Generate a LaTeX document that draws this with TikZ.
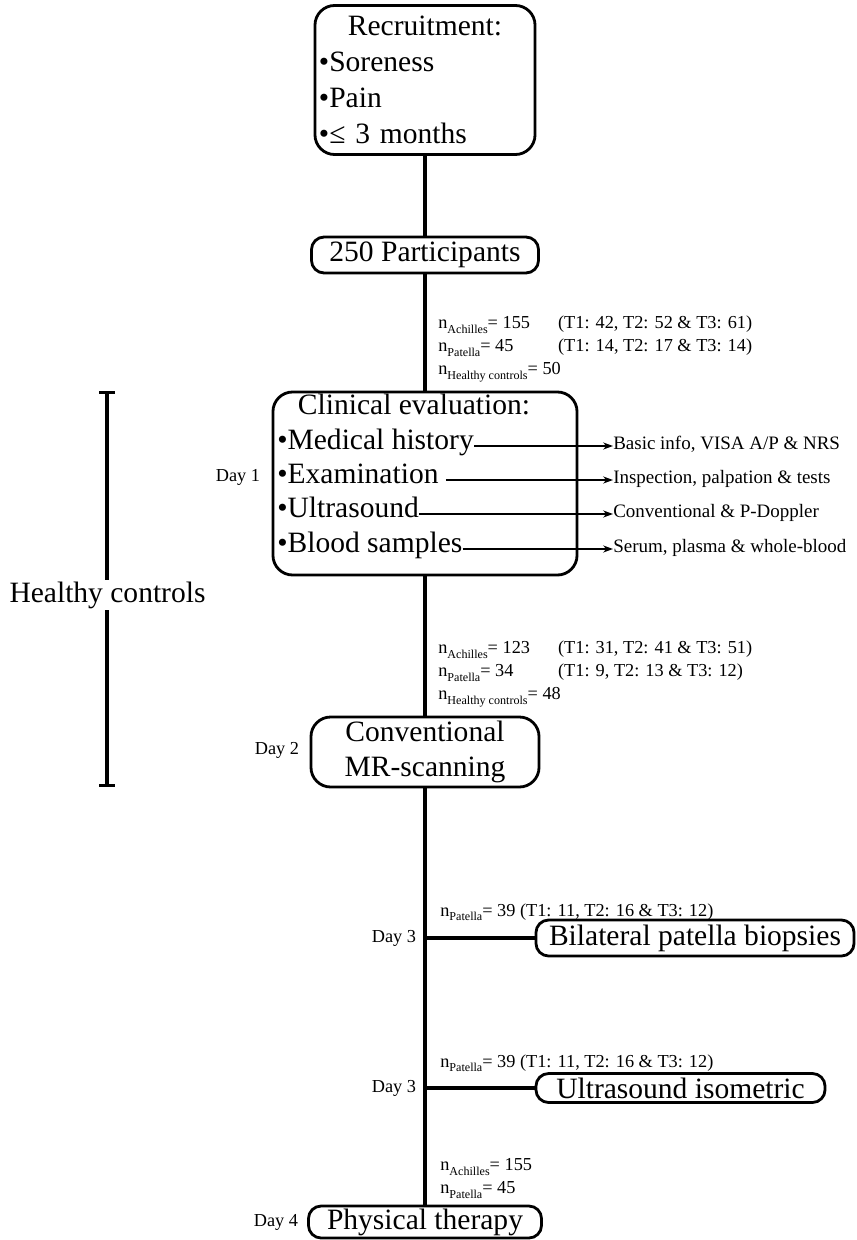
\documentclass[tikz,border=0pt]{standalone}
\usepackage{fontspec}
\setmainfont{Liberation Serif}
\usetikzlibrary{positioning, arrows.meta}

\newcommand{\lowsub}[1]{\raisebox{-3.2pt}{\fontsize{8.6}{10}\selectfont #1}}

\begin{document}
\begin{tikzpicture}[
        x=0.025cm, y=-0.025cm,
        box/.style={rectangle, draw, line width=2pt, rounded corners=14pt, inner sep=0pt, align=center, font=\fontsize{21}{25.5}\selectfont},
        pill/.style={box, rounded corners=9pt},
        item/.style={anchor=west, inner sep=0pt, text height=0.7em, text depth=0.25em, font=\fontsize{21}{25.5}\selectfont},
        result/.style={anchor=west, inner sep=0pt, text height=0.7em, text depth=0.25em, font=\fontsize{13.5}{16}\selectfont},
        day/.style={inner sep=0pt, font=\fontsize{13}{16}\selectfont},
        count/.style={inner sep=0pt, align=left, font=\fontsize{13}{16.5}\selectfont},
        trunk/.style={line width=2.2pt},
        arrow/.style={-{Stealth[length=7pt, width=5pt]}, line width=1.4pt}
    ]
    \useasboundingbox (0,0) rectangle (856,1240);

    % Main line boxes
    \node[box, minimum width=5.5cm, minimum height=3.725cm, text width=5.3cm, align=left] (recr) at (425,80) {\makebox[5.3cm]{Recruitment:}\\•Soreness\\•Pain\\•≤ 3 months};
    \node[pill, minimum width=5.675cm, minimum height=0.9cm] (part) at (425,255) {250 Participants};
    \node[box, minimum width=7.6cm, minimum height=4.575cm] (clin) at (425,483.5) {};
    \node[box, minimum width=5.7cm, minimum height=1.75cm] (mr) at (425,752) {Conventional\\MR-scanning};
    \node[pill, minimum width=5.825cm, minimum height=0.8cm] (phys) at (425,1222) {Physical therapy};

    % Day 3 branches
    \coordinate (d3a) at (425,938);
    \coordinate (d3b) at (425,1088);
    \node[pill, minimum width=7.95cm, minimum height=0.9cm] (bio) at (695,938) {Bilateral patella biopsies};
    \node[pill, minimum width=7.225cm, minimum height=0.725cm] (ultr) at (680.5,1088) {Ultrasound isometric};

    % Clinical evaluation items
    \node[item, anchor=center] (clintitle) at (414,411) {Clinical evaluation:};
    \node[item] (medhist) at (277,446) {•Medical history};
    \node[item] (exam) at (277,480) {•Examination};
    \node[item] (us) at (277,514) {•Ultrasound};
    \node[item] (blood) at (277,549) {•Blood samples};

    % Results of each item
    \node[result] (basic) at (613,446) {Basic info, VISA A/P \& NRS};
    \node[result] (insp) at (613,480) {Inspection, palpation \& tests};
    \node[result] (conv) at (613,514) {Conventional \& P-Doppler};
    \node[result] (serum) at (613,549) {Serum, plasma \& whole-blood};

    \draw[arrow] (medhist) -- (basic);
    \draw[arrow] ([xshift=5pt]exam.east) -- (insp);
    \draw[arrow] (us) -- (conv);
    \draw[arrow] (blood) -- (serum);

    % Days
    \node[day] (day1) at (238,477) {Day 1};
    \node[day] (day2) at (277,750) {Day 2};
    \node[day] (day3a) at (394,938) {Day 3};
    \node[day] (day3b) at (394,1088) {Day 3};
    \node[day] (day4) at (276,1222) {Day 4};

    % Main line
    \draw[trunk] (recr) -- (part);
    \draw[trunk] (part) -- (clin);
    \draw[trunk] (clin) -- (mr);
    \draw[trunk] (mr) -- (phys);
    \draw[trunk] (d3a) -- (bio);
    \draw[trunk] (d3b) -- (ultr);

    % Healthy controls bracket
    \coordinate (hctop) at (107,391);
    \coordinate (hcbot) at (107,787);
    \draw[trunk, {Bar[width=11pt]}-{Bar[width=11pt]}] (hctop) -- (hcbot);
    \node[fill=white, inner sep=1pt, font=\fontsize{21}{25}\selectfont] (hc) at (107.5,595) {Healthy controls};

    % Counts
    \node[count, anchor=north west] (cnt1) at (438,312) {\begin{tabular}{@{}l@{\hspace{20pt}}l@{}}
        n\lowsub{Achilles}= 155 & (T1: 42, T2: 52 \& T3: 61)\\
        n\lowsub{Patella}= 45 & (T1: 14, T2: 17 \& T3: 14)\\
        \multicolumn{2}{@{}l@{}}{n\lowsub{Healthy controls}= 50}
    \end{tabular}};
    \node[count, anchor=north west] (cnt2) at (438,637) {\begin{tabular}{@{}l@{\hspace{20pt}}l@{}}
        n\lowsub{Achilles}= 123 & (T1: 31, T2: 41 \& T3: 51)\\
        n\lowsub{Patella}= 34 & (T1: 9, T2: 13 \& T3: 12)\\
        \multicolumn{2}{@{}l@{}}{n\lowsub{Healthy controls}= 48}
    \end{tabular}};
    \node[count, anchor=base west] (cnt3) at (440,916) {n\lowsub{Patella}= 39 (T1: 11, T2: 16 \& T3: 12)};
    \node[count, anchor=base west] (cnt4) at (440,1067) {n\lowsub{Patella}= 39 (T1: 11, T2: 16 \& T3: 12)};
    \node[count, anchor=north west] (cnt5) at (440,1154) {\begin{tabular}{@{}l@{}}
        n\lowsub{Achilles}= 155\\
        n\lowsub{Patella}= 45
    \end{tabular}};

\end{tikzpicture}
\end{document}
